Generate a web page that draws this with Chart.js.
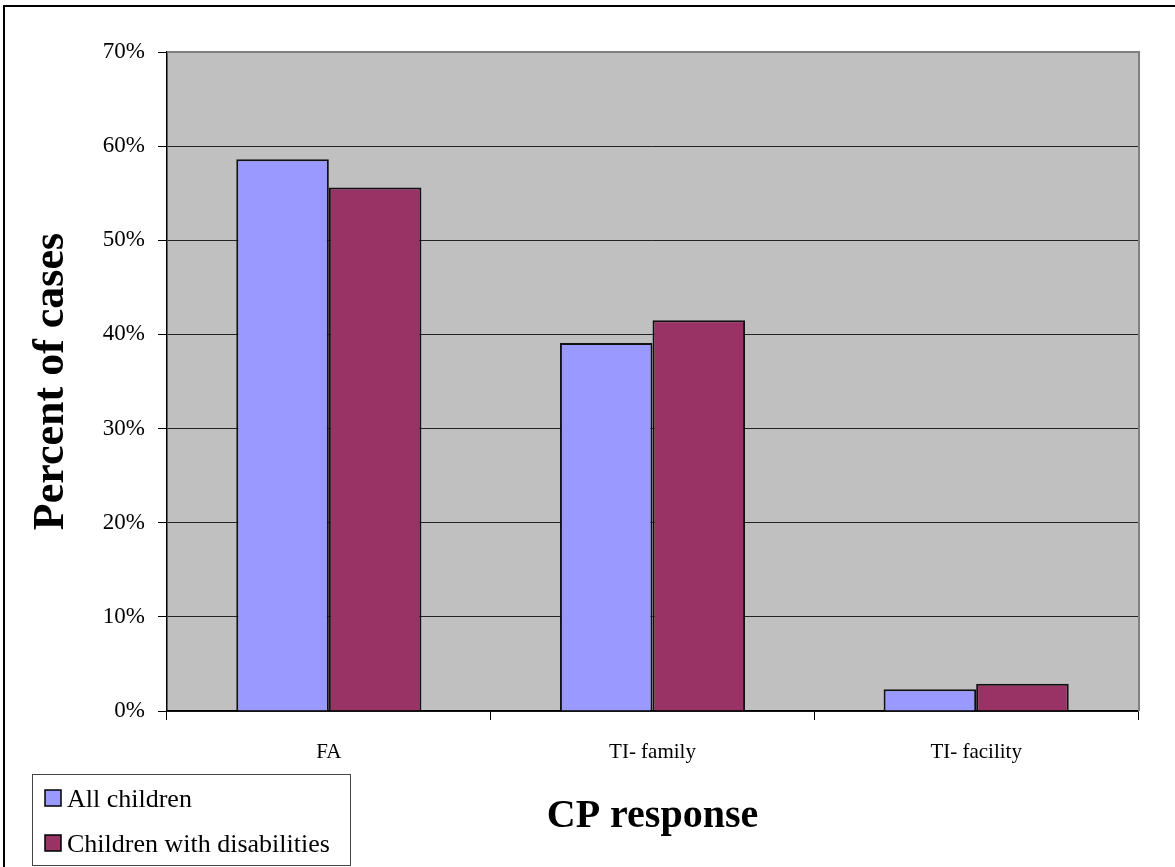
<!DOCTYPE html>
<html>
<head>
<meta charset="utf-8">
<script src="https://cdn.jsdelivr.net/npm/chart.js@4/dist/chart.umd.min.js"></script>
<style>
  html, body { margin:0; padding:0; width:1175px; height:867px; overflow:hidden; background:#fff; }
  #frame { position:absolute; left:3px; top:5px; width:1250px; height:950px; border:2px solid #000; box-sizing:border-box; }
  #wrap { position:absolute; left:0; top:0; width:1175px; height:867px; }
</style>
</head>
<body>
<div id="frame"></div>
<div id="wrap"><canvas id="c" width="1175" height="867"></canvas></div>
<script>
const categories = ['FA', 'TI- family', 'TI- facility'];
const seriesNames = ['All children', 'Children with disabilities'];
const allChildren = [58.6, 39.1, 2.3];
const withDisabilities = [55.6, 41.5, 2.9];
const yTicks = [0, 10, 20, 30, 40, 50, 60, 70];
const colors = ['#9999FF', '#993366'];

const FONT = "'Liberation Serif','Times New Roman',serif";

const bgPlugin = {
  id: 'bg',
  beforeDraw(chart) {
    const {ctx, chartArea: a} = chart;
    ctx.save();
    ctx.fillStyle = '#C0C0C0';
    ctx.fillRect(a.left, a.top, a.right - a.left, a.bottom - a.top);
    ctx.restore();
  },
  beforeDatasetsDraw(chart) {
    const {ctx, chartArea: a} = chart;
    ctx.save();
    ctx.strokeStyle = '#808080';
    ctx.lineWidth = 2;
    ctx.beginPath();
    ctx.moveTo(a.left, a.top);
    ctx.lineTo(a.right + 1, a.top);
    ctx.lineTo(a.right + 1, a.bottom);
    ctx.stroke();
    ctx.restore();
  }
};

// Boxed legend in the bottom-left corner, drawn from the datasets
const boxLegend = {
  id: 'boxLegend',
  afterDraw(chart) {
    const ctx = chart.ctx;
    ctx.save();
    ctx.fillStyle = '#fff';
    ctx.fillRect(32, 774, 318, 91);
    ctx.strokeStyle = '#444';
    ctx.lineWidth = 1;
    ctx.strokeRect(32.5, 774.5, 318, 91);
    ctx.font = "26px " + FONT;
    ctx.textBaseline = 'alphabetic';
    ctx.textAlign = 'left';
    chart.data.datasets.forEach((ds, i) => {
      const base = 807 + i * 45;
      ctx.fillStyle = ds.backgroundColor;
      ctx.fillRect(45, base - 17, 16, 16);
      ctx.strokeStyle = '#000';
      ctx.lineWidth = 1.5;
      ctx.strokeRect(45, base - 17, 16, 16);
      ctx.fillStyle = '#000';
      ctx.fillText(ds.label, 67, base);
    });
    ctx.restore();
  }
};

const chart = new Chart(document.getElementById('c'), {
  type: 'bar',
  data: {
    labels: categories,
    datasets: [
      { label: seriesNames[0], data: allChildren, backgroundColor: colors[0], borderColor: '#111', borderWidth: 2 },
      { label: seriesNames[1], data: withDisabilities, backgroundColor: colors[1], borderColor: '#111', borderWidth: 2 }
    ]
  },
  options: {
    responsive: false,
    animation: false,
    layout: { padding: { top: 52, right: 37, left: 0, bottom: 0 } },
    datasets: { bar: { categoryPercentage: 0.572, barPercentage: 1.0 } },
    plugins: { legend: { display: false }, tooltip: { enabled: false } },
    scales: {
      x: {
        grid: { offset: true, drawOnChartArea: false, drawTicks: true, tickLength: 9, color: '#000', lineWidth: 1 },
        border: { color: '#000', width: 1.5 },
        ticks: { font: { family: FONT, size: 21 }, color: '#000', padding: 20 },
        title: { display: true, text: 'CP response', font: { family: FONT, size: 40, weight: 'bold' }, color: '#000', padding: { top: 0, bottom: 26 } },
        afterFit(scale) { scale.height = 867 - 711; }
      },
      y: {
        min: 0, max: 70,
        afterBuildTicks(scale) { scale.ticks = yTicks.map(v => ({ value: v })); },
        grid: {
          color: (c) => (c.tick && c.tick.value === 70) ? '#808080' : '#222',
          tickColor: '#000', tickLength: 9, lineWidth: 1
        },
        border: { color: '#000', width: 1.5 },
        ticks: { font: { family: FONT, size: 23 }, color: '#000', padding: 13, callback: v => v + '%' },
        title: { display: true, text: 'Percent of cases', font: { family: FONT, size: 44, weight: 'bold' }, color: '#000', padding: { top: 25, bottom: 0 } },
        afterFit(scale) { scale.width = 167; }
      }
    }
  },
  plugins: [bgPlugin, boxLegend]
});
</script>
</body>
</html>
